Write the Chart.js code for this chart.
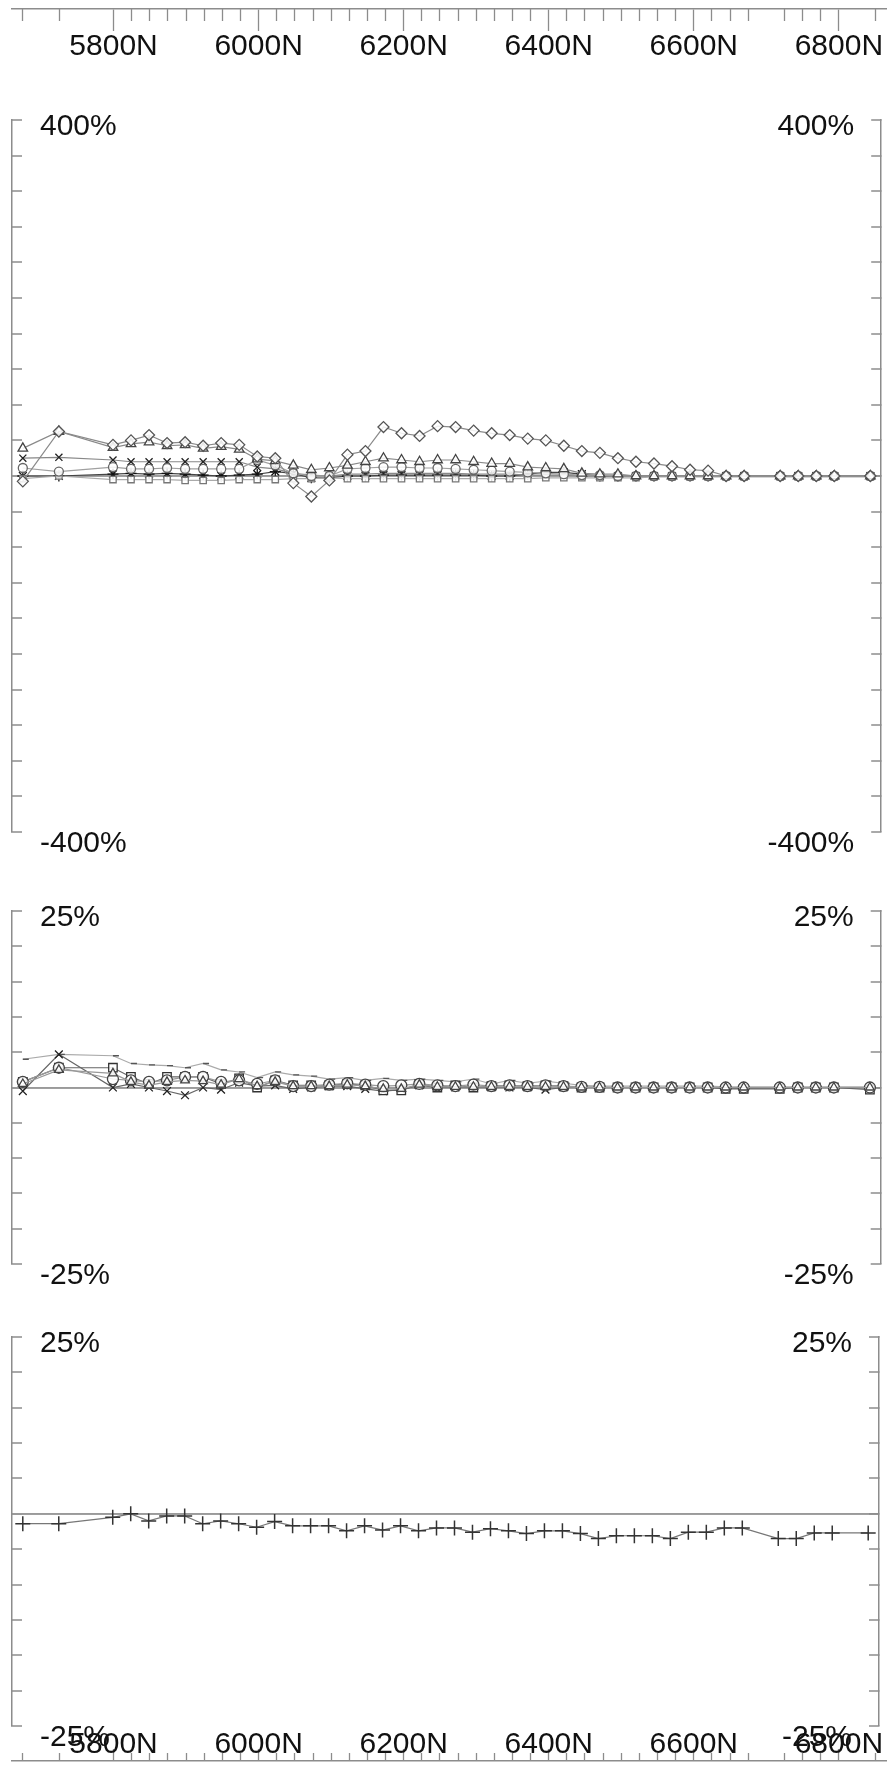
<!DOCTYPE html>
<html><head><meta charset="utf-8">
<script src="https://cdn.jsdelivr.net/npm/chart.js@4.4.0/dist/chart.umd.min.js"></script>
<style>
html,body{margin:0;padding:0;background:#fff;}
#wrap{position:relative;width:888px;height:1765px;overflow:hidden;background:#fff;}
canvas{position:absolute;left:0;}
</style></head><body>
<div id="wrap">
<canvas id="c1" width="888" height="760" style="top:110px"></canvas>
<canvas id="c2" width="888" height="410" style="top:883px"></canvas>
<canvas id="c3" width="888" height="455" style="top:1310px"></canvas>
<canvas id="rTop" width="888" height="100" style="top:0px"></canvas>
<canvas id="rBot" width="888" height="100" style="top:1665px"></canvas>
</div>
<script>
// ---------- data ----------
const positions = [5675,5725,5800,5825,5850,5875,5900,5925,5950,5975,6000,6025,6050,6075,6100,6125,6150,6175,6200,6225,6250,6275,6300,6325,6350,6375,6400,6425,6450,6475,6500,6525,6550,6575,6600,6625,6650,6675,6725,6750,6775,6800,6850];
const majorTicks = [5800,6000,6200,6400,6600,6800];
const majorTickLabels = ['5800N','6000N','6200N','6400N','6600N','6800N'];
const panel1Labels = ['400%','-400%'];
const panel2Labels = ['25%','-25%'];
const panel3Labels = ['25%','-25%'];

// panel 1 (%)
const p1Diamond  = [-6,50,35,40,46,37,38,34,37,35,22,20,-8,-23,-5,24,28,55,48,45,56,55,51,48,46,42,40,34,28,26,20,16,14,11,7,6,0,0,0,0,0,0,0];
const p1Triangle = [31,50,32,36,38,34,35,31,33,30,19,17,12,7,9,12,16,20,18,16,18,18,16,14,14,10,9,8,3,2,2,0,0,0,0,0,0,0,0,0,0,0,0];
const p1Hourglass= [20,21,18,16,16,16,16,16,16,16,10,8,3,1,0,2,2,3,3,3,3,3,2,2,2,1,1,1,0,0,0,0,0,0,0,0,0,0,0,0,0,0,0];
const p1Circle   = [9,5,10,8,8,9,8,8,8,8,18,12,3,0,0,8,9,10,10,9,9,8,7,6,5,4,3,2,1,1,0,0,0,0,0,0,0,0,0,0,0,0,0];
const p1Star     = [0,0,2,3,2,3,2,1,0,1,2,5,3,-2,-2,0,0,1,1,1,1,1,1,0,0,2,4,4,2,0,0,0,0,0,0,0,0,0,0,0,0,0,0];
const p1Square   = [-3,0,-4,-4,-4,-4,-5,-5,-5,-4,-4,-4,-3,-3,-2,-3,-3,-3,-3,-3,-3,-3,-3,-3,-3,-3,-2,-2,-2,-2,-2,-2,-1,-1,-1,-1,-1,-1,-1,-1,-1,-1,-1];

// panel 2 (%)
const p2Square = [0.8,2.8,2.8,1.5,0.5,1.5,1.5,1.5,0.5,1.3,0,1,0.3,0.3,0.3,0.5,0.3,-0.4,-0.4,0.5,0,0.3,0,0.2,0.3,0.2,0.3,0.2,0,0,0,0,0,0,0,0,-0.2,-0.2,-0.2,0,0,0,-0.3];
const p2Dash   = [4,4.7,4.5,3.4,3.2,3.1,2.8,3.4,2.5,2.2,1.4,2.2,1.8,1.6,1.2,1.4,1.0,1.3,1.0,1.2,1.0,0.8,1.2,0.5,1.0,0.6,0.9,0.6,0.3,0.2,0.2,0.2,0.2,0.2,0.2,0.2,0.1,0.1,0.1,0.1,0.1,0.1,0.1];
const p2Circle = [0.8,2.8,1.2,1.0,0.8,1.0,1.5,1.5,0.8,1.0,0.5,1.0,0.2,0.2,0.4,0.6,0.4,0.2,0.3,0.5,0.3,0.2,0.4,0.2,0.3,0.2,0.3,0.2,0.1,0.1,0,0,0,0,0,0,0,0,0,0,0,0,0];
const p2Cross  = [-0.5,4.7,0,0.5,0,-0.5,-1.1,0,-0.3,0.7,0.2,0.3,-0.2,0,0.2,0.2,-0.2,-0.5,-0.3,0.3,0,0,0,0,0,0,-0.3,0,0,0,0,0,0,0,0,0,0,0,0,0,0,0,0];
const p2Tri    = [0.5,2.5,2.0,0.8,0.3,0.8,1.0,0.9,0.4,1.2,0.2,0.8,0.2,0.2,0.2,0.4,0.2,-0.2,-0.2,0.4,0.1,0.1,0.1,0.1,0.1,0.1,0.1,0.1,0,0,0,0,0,0,0,0,0,0,0,0,0,0,0];

// panel 3 (%)
const p3Cross = [-1.4,-1.4,-0.5,0,-1,-0.3,-0.3,-1.4,-1,-1.4,-1.9,-1.1,-1.7,-1.7,-1.7,-2.4,-1.7,-2.3,-1.7,-2.4,-2.0,-2.0,-2.6,-2.1,-2.4,-2.8,-2.4,-2.4,-2.8,-3.5,-3.1,-3.1,-3.1,-3.5,-2.6,-2.6,-2.0,-2.0,-3.5,-3.5,-2.7,-2.7,-2.7];

// ---------- styling / helpers ----------
const X_MIN = 5660, X_MAX = 6865;
const AX = '#8c8c8c';
const FONT = {family: '"Liberation Sans", Arial, Helvetica, sans-serif', size: 30};
const minorTicks = positions.filter(v => majorTicks.indexOf(v) < 0);

function pts(vals){ return positions.map((x,i)=>({x:x, y:vals[i]})); }

function ds(vals, style, radius, ptColor, lineColor, extra){
  return Object.assign({
    data: pts(vals), showLine:true, tension:0, borderWidth:1.2,
    borderColor: lineColor || '#9a9a9a', pointStyle: style, pointRadius: radius,
    pointBorderColor: ptColor, pointBackgroundColor: 'rgba(255,255,255,0.85)', pointBorderWidth:1.3,
    fill:false
  }, extra||{});
}

function zeroPad(s){ s.paddingTop = 0; s.paddingBottom = 0; s.paddingLeft = 0; s.paddingRight = 0; }

function panelScales(min, max, step, labels){
  const tickVals=[]; for(let v=min; v<=max+1e-9; v+=step) tickVals.push(Math.round(v*1000)/1000);
  const common = () => ({ type:'linear', min:min, max:max,
    afterFit: s => { s.width = 0; zeroPad(s); },
    afterBuildTicks: s => { s.ticks = tickVals.map(v=>({value:v})); } });
  const tickAxis = pos => Object.assign(common(), { position: pos,
    grid: { drawOnChartArea:true, drawTicks:true, tickLength:-10, tickColor:AX, tickWidth:1.5,
      lineWidth: c => (c.tick && c.tick.value===0) ? 1.8 : 0,
      color: c => (c.tick && c.tick.value===0) ? '#9a9a9a' : 'rgba(0,0,0,0)' },
    border: { display:true, color:AX, width:1.5 },
    ticks: { display:true, mirror:true, autoSkip:false, padding: pos==='left'?28:-27, labelOffset:7,
      font:FONT, color:'#111', callback: v => v===max ? labels[0] : '' } });
  const labelAxis = pos => Object.assign(common(), { position: pos,
    grid: { display:false, drawTicks:false }, border: { display:false },
    ticks: { display:true, mirror:true, autoSkip:false, padding: pos==='left'?28:-27, labelOffset:12,
      font:FONT, color:'#111', callback: v => v===min ? labels[1] : '' } });
  return { x:{type:'linear', min:X_MIN, max:X_MAX, display:false},
    y: tickAxis('left'), yR: tickAxis('right'), yL2: labelAxis('left'), yR2: labelAxis('right') };
}

function panel(id, datasets, min, max, step, labels, pad){
  new Chart(document.getElementById(id), {
    type:'line', data:{datasets:datasets},
    options:{ responsive:false, animation:false, events:[],
      layout:{padding:{left:12,right:2,top:pad[0],bottom:pad[1]}},
      plugins:{legend:{display:false}, tooltip:{enabled:false}},
      scales: panelScales(min,max,step,labels) }
  });
}

function ruler(id, pos, majorH, minorLen, majorLen, labelPad){
  new Chart(document.getElementById(id), {
    type:'line', data:{datasets:[]},
    options:{ responsive:false, animation:false, events:[],
      layout:{padding:{left:12,right:2,top:0,bottom:0}},
      plugins:{legend:{display:false}, tooltip:{enabled:false}},
      scales:{
        y:{display:false},
        xm:{ type:'linear', position:pos, min:X_MIN, max:X_MAX, weight:0,
          afterFit: s => { s.height = 0; zeroPad(s); },
          afterBuildTicks: s => { s.ticks = minorTicks.map(v=>({value:v})); },
          grid:{drawOnChartArea:false, drawTicks:true, tickLength:minorLen, tickColor:AX, tickWidth:1.3},
          border:{display:false}, ticks:{display:false} },
        x:{ type:'linear', position:pos, min:X_MIN, max:X_MAX, weight:1,
          afterFit: s => { s.height = majorH; zeroPad(s); },
          afterBuildTicks: s => { s.ticks = majorTicks.map(v=>({value:v})); },
          grid:{drawOnChartArea:false, drawTicks:true, tickLength:majorLen, tickColor:AX, tickWidth:1.3},
          border:{display:true, color:AX, width:1.5},
          ticks:{ font:FONT, color:'#111', padding:labelPad, maxRotation:0, minRotation:0, autoSkip:false,
            callback:(v,i)=>majorTickLabels[i] } }
      } }
  });
}

// ---------- build ----------
panel('c1', [
  ds(p1Diamond,'rectRot',5.5,'#555','#8a8a8a'),
  ds(p1Triangle,'triangle',5.5,'#444','#8a8a8a'),
  ds(p1Circle,'circle',4.5,'#666','#a0a0a0'),
  ds(p1Square,'rect',4.5,'#777','#aaaaaa'),
  ds(p1Hourglass,'crossRot',5,'#222','#888'),
  ds(p1Star,'star',5.5,'#111','#444')
], -400, 400, 40, panel1Labels, [10,38]);

panel('c2', [
  ds(p2Tri,'triangle',5,'#444','#999'),
  ds(p2Circle,'circle',5.5,'#444','#999'),
  ds(p2Square,'rect',6,'#333','#666'),
  ds(p2Cross,'crossRot',5.5,'#222','#666'),
  ds(p2Dash,'dash',6,'#555','#aaa')
], -25, 25, 5, panel2Labels, [28,29]);

// panel 3: top at 1337, zero line at 1513 on the 35px tick grid, bottom near 1724
panel('c3', [
  ds(p3Cross,'cross',7.5,'#333','#777',{pointBorderWidth:1.5})
], -30, 25, 5, panel3Labels, [27,39]);

ruler('rTop','bottom',91,12,22,-2);
ruler('rBot','top',96,8,12,-14);
</script>
</body></html>
